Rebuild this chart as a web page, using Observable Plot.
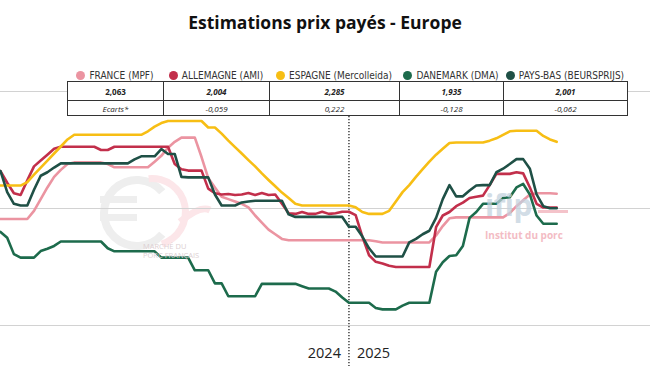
<!DOCTYPE html>
<html><head><meta charset="utf-8">
<script src="https://cdn.jsdelivr.net/npm/d3@7"></script>
<script src="https://cdn.jsdelivr.net/npm/@observablehq/plot@0.6"></script>
<style>
html,body{margin:0;padding:0;background:#fff;}
body{width:650px;height:366px;overflow:hidden;font-family:"Open Sans",sans-serif;}
#title{height:40px;line-height:44px;text-align:center;font-weight:700;font-size:17.5px;color:#111;}
#wrap{position:relative;width:650px;height:326px;}
#wrap svg{display:block;position:absolute;left:0;top:0;}
#legend{position:absolute;left:67px;top:29px;display:flex;height:12px;}
#legend .it{display:flex;align-items:center;justify-content:center;font-family:"Liberation Sans Narrow","DejaVu Sans Condensed",sans-serif;font-size:10px;color:#333;white-space:nowrap;}
#legend .dot{width:9px;height:9px;border-radius:50%;margin-right:4px;}
#tbl{position:absolute;left:67px;top:41px;border-collapse:collapse;background:#fff;font-size:8px;color:#222;}
#tbl td{border:1px solid #333;text-align:center;padding:0;}
#tbl tr.r1 td{height:18px;font-weight:700;font-style:italic;}
#tbl tr.r1 td:first-child{font-style:normal;}
#tbl tr.r2 td{height:14px;font-style:italic;}
.wm{position:absolute;white-space:nowrap;}
</style>
</head><body>
<div id="title">Estimations prix payés - Europe</div>
<div id="wrap">
  <svg id="logo" width="650" height="326" style="position:absolute;left:0;top:0"></svg>
  <div id="plot"></div>
  <div class="wm" style="left:143px;top:203px;font-size:7.5px;line-height:7.5px;color:#dccfd2;">MARCHÉ DU</div>
  <div class="wm" style="left:143px;top:212px;font-size:7.5px;line-height:7.5px;color:#dccfd2;">PORC FRANÇAIS</div>
  <div class="wm" style="left:485px;top:150px;font-size:30px;line-height:30px;font-weight:700;color:#c3d2de;opacity:0.75;letter-spacing:-0.5px;">ifip</div>
  <div class="wm" style="left:538px;top:170px;width:30px;height:3px;background:#f4c3ca;"></div>
  <div class="wm" style="left:485px;top:190px;font-size:10px;line-height:10px;font-weight:700;color:#f3bcc4;">Institut du porc</div>
  <div id="legend"></div>
  <table id="tbl"></table>
</div>
<script>
// ---- data ----
const seriesNames = ["FRANCE (MPF)", "ALLEMAGNE (AMI)", "ESPAGNE (Mercolleida)", "DANEMARK (DMA)", "PAYS-BAS (BEURSPRIJS)"];
const seriesColors = ["#eb94a1", "#c22f4b", "#f7be14", "#1d6b4c", "#1f5046"];

const france = [1.955,1.955,1.955,1.955,1.955,1.99,2.04,2.09,2.135,2.165,2.19,2.197,2.197,2.197,2.197,2.197,2.19,2.176,2.176,2.176,2.176,2.176,2.176,2.20,2.225,2.26,2.285,2.303,2.303,2.303,2.22,2.13,2.09,2.05,2.04,2.03,2.02,2.005,1.97,1.94,1.91,1.89,1.87,1.864,1.864,1.864,1.864,1.864,1.864,1.864,1.864,1.864,1.864,1.864,1.864,1.864,1.86,1.855,1.855,1.855,1.855,1.855,1.855,1.855,1.855,1.885,1.925,1.958,1.962,1.962,1.962,1.962,1.962,1.962,1.962,1.962,1.98,2.01,2.035,2.06,2.065,2.065,2.065,2.063];
const allemagne = [2.16,2.11,2.065,2.058,2.12,2.18,2.205,2.23,2.255,2.264,2.264,2.264,2.264,2.264,2.264,2.25,2.25,2.264,2.264,2.264,2.264,2.264,2.264,2.264,2.264,2.264,2.19,2.168,2.162,2.162,2.162,2.085,2.065,2.06,2.062,2.058,2.06,2.066,2.058,2.066,2.058,2.06,2.02,1.98,1.977,1.985,1.977,1.977,1.986,1.977,1.98,1.986,1.986,1.972,1.88,1.80,1.772,1.765,1.755,1.75,1.75,1.75,1.75,1.75,1.75,1.92,1.97,1.985,2.01,2.025,2.045,2.05,2.055,2.10,2.148,2.148,2.148,2.155,2.15,2.09,2.02,2.004,2.004,2.004];
const espagne = [2.098,2.098,2.098,2.098,2.113,2.145,2.175,2.205,2.235,2.265,2.295,2.315,2.315,2.315,2.315,2.315,2.315,2.315,2.315,2.315,2.315,2.315,2.33,2.35,2.365,2.374,2.374,2.374,2.374,2.374,2.374,2.346,2.346,2.32,2.29,2.262,2.235,2.207,2.18,2.15,2.122,2.095,2.068,2.045,2.02,2.013,2.013,2.013,2.013,2.013,2.013,2.013,2.013,2.005,1.985,1.977,1.977,1.977,1.99,2.03,2.07,2.10,2.135,2.168,2.20,2.23,2.255,2.28,2.282,2.282,2.282,2.282,2.282,2.29,2.30,2.315,2.33,2.332,2.332,2.332,2.332,2.31,2.295,2.285];
const danemark = [1.90,1.875,1.805,1.79,1.79,1.79,1.818,1.828,1.84,1.859,1.859,1.859,1.859,1.859,1.859,1.859,1.83,1.817,1.817,1.817,1.817,1.817,1.817,1.817,1.79,1.79,1.79,1.79,1.79,1.736,1.736,1.736,1.68,1.68,1.625,1.625,1.625,1.625,1.625,1.678,1.678,1.678,1.678,1.678,1.678,1.668,1.658,1.658,1.658,1.658,1.645,1.62,1.597,1.597,1.597,1.597,1.575,1.569,1.569,1.569,1.585,1.597,1.597,1.597,1.597,1.73,1.77,1.797,1.80,1.84,1.96,1.985,2.02,2.02,2.02,2.045,2.048,2.09,2.105,2.06,1.97,1.935,1.935,1.935];
const paysBas = [2.16,2.07,2.02,2.013,2.013,2.08,2.14,2.155,2.175,2.193,2.193,2.193,2.193,2.193,2.193,2.193,2.193,2.193,2.193,2.193,2.21,2.223,2.223,2.223,2.254,2.233,2.233,2.135,2.133,2.133,2.133,2.133,2.06,2.013,2.013,2.013,2.026,2.03,2.033,2.033,2.033,2.033,2.033,1.975,1.964,1.964,1.964,1.964,1.964,1.964,1.964,1.964,1.922,1.922,1.88,1.83,1.795,1.795,1.795,1.795,1.795,1.855,1.87,1.89,1.905,1.96,2.04,2.10,2.052,2.052,2.077,2.098,2.10,2.10,2.155,2.17,2.19,2.211,2.211,2.17,2.06,2.01,2.001,2.001];

const latestLabels = ["2,063", "2,004", "2,285", "1,935", "2,001"];
const ecartLabels = ["Ecarts*", "-0,059", "0,222", "-0,128", "-0,062"];
const columnWidths = [96, 106, 130, 104, 124];
const gridValues = [1.5, 2.0, 2.5];
const yearBoundary = 52;   // first week of 2025 (week index)
const yearLabels = [{week: 52, label: "2024", side: "end"}, {week: 52, label: "2025", side: "start"}];

// ---- build ----
const allSeries = [france, allemagne, espagne, danemark, paysBas];
const rows = [];
allSeries.forEach((vals, s) => vals.forEach((v, i) => rows.push({series: seriesNames[s], week: i, value: v})));

// legend + table
const legend = document.getElementById("legend");
seriesNames.forEach((n, i) => {
  const d = document.createElement("div");
  d.className = "it"; d.style.width = columnWidths[i] + "px";
  d.innerHTML = `<span class="dot" style="background:${seriesColors[i]}"></span>${n}`;
  legend.appendChild(d);
});
const tbl = document.getElementById("tbl");
const tr1 = document.createElement("tr"); tr1.className = "r1";
const tr2 = document.createElement("tr"); tr2.className = "r2";
latestLabels.forEach((t, i) => { const td = document.createElement("td"); td.style.width = (columnWidths[i] - 1) + "px"; td.textContent = t; tr1.appendChild(td); });
ecartLabels.forEach(t => { const td = document.createElement("td"); td.textContent = t; tr2.appendChild(td); });
tbl.appendChild(tr1); tbl.appendChild(tr2);

// faint watermark logo (euro sign + pink arc)
const logo = d3.select("#logo");
logo.append("path").attr("d", d3.arc()({innerRadius: 29, outerRadius: 37, startAngle: Math.PI / 2 + 0.7, endAngle: Math.PI * 2.5 - 0.7}))
  .attr("transform", "translate(137,173)").attr("fill", "#eeeeee");
logo.append("rect").attr("x", 100).attr("y", 156).attr("width", 37).attr("height", 7).attr("fill", "#eeeeee");
logo.append("rect").attr("x", 100).attr("y", 174).attr("width", 37).attr("height", 7).attr("fill", "#eeeeee");
logo.append("path").attr("d", d3.arc()({innerRadius: 30, outerRadius: 37, startAngle: -0.1, endAngle: Math.PI - 0.3}))
  .attr("transform", "translate(152,172)").attr("fill", "#fce6e9");
logo.append("path").attr("d", "M180,182 Q200,165 210,170").attr("fill", "none").attr("stroke", "#fce6e9").attr("stroke-width", 7);

const chart = Plot.plot({
  width: 650, height: 326,
  marginLeft: 0, marginRight: 0, marginTop: 51, marginBottom: 41,
  style: {background: "transparent", overflow: "visible"},
  x: {domain: [0, 97], axis: null},
  y: {domain: [1.5, 2.5], axis: null},
  color: {domain: seriesNames, range: seriesColors},
  marks: [
    Plot.gridY(gridValues, {stroke: "#d2d2d2", strokeOpacity: 1, strokeWidth: 1}),
    Plot.ruleX([yearBoundary], {stroke: "#222", strokeWidth: 1.3, strokeDasharray: "1.3,1.7", insetTop: 25, insetBottom: -41}),
    Plot.line(rows, {x: "week", y: "value", z: "series", stroke: "series", strokeWidth: 2.6, strokeLinejoin: "round"}),
    Plot.text(yearLabels.filter(d => d.side === "end"), {x: "week", text: "label", frameAnchor: "bottom", textAnchor: "end", dx: -8, dy: 32, fontSize: 14.5, fill: "#222", fontFamily: "Open Sans"}),
    Plot.text(yearLabels.filter(d => d.side === "start"), {x: "week", text: "label", frameAnchor: "bottom", textAnchor: "start", dx: 8, dy: 32, fontSize: 14.5, fill: "#222", fontFamily: "Open Sans"})
  ]
});
document.getElementById("plot").appendChild(chart);
</script>
</body></html>
